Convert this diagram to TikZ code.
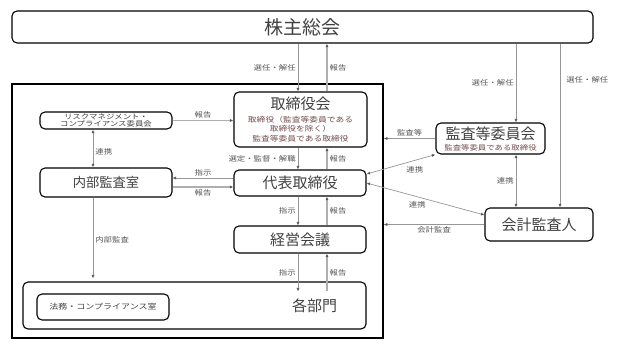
\documentclass[tikz,border=0pt]{standalone}
\usepackage{fontspec}
\setmainfont{Noto Sans CJK JP}
\newfontfamily\widefont[FakeStretch=1.2]{Noto Sans CJK JP}
\usetikzlibrary{arrows.meta, calc}
\definecolor{boxtext}{RGB}{64,64,64}
\definecolor{subtext}{RGB}{115,75,75}
\definecolor{linegray}{RGB}{150,150,150}
\definecolor{repgray}{RGB}{175,175,175}
\definecolor{tipgray}{RGB}{90,90,90}
\definecolor{labelgray}{RGB}{85,85,85}

\begin{document}
\begin{tikzpicture}[x=1pt, y=-1pt,
  box/.style={draw, rounded corners=5pt, line width=1.1pt, inner sep=0pt, text=boxtext},
  big/.style={font=\fontsize{15}{17}\selectfont},
  lbl/.style={font=\widefont\fontsize{7}{8}\selectfont, text=labelgray, inner sep=2pt},
  arr/.style={draw=linegray, line width=0.6pt, -{Latex[length=3.5pt,width=3pt,color=tipgray]}},
  rep/.style={arr, line width=1.3pt, draw=repgray},
  both/.style={draw=linegray, line width=0.7pt, {Latex[length=3.5pt,width=3pt,color=tipgray]}-{Latex[length=3.5pt,width=3pt,color=tipgray]}},
]
\useasboundingbox (0,0) rectangle (620,350);

% columns for the vertical connectors
\coordinate (colA) at (298,0);
\coordinate (colB) at (327,0);
\coordinate (colC) at (93,0);
\coordinate (colD) at (516,0);
\coordinate (colE) at (560,0);

% boxes
\node[box, minimum width=581, minimum height=32, font=\fontsize{19}{21}\selectfont] (soukai) at (302.5,27) {株主総会};
\node[draw, line width=1.6pt, inner sep=0pt, minimum width=371, minimum height=254] (frame) at (197.5,211) {};

\node[box, minimum width=133, minimum height=55, align=center, font=\widefont\fontsize{7.3}{9.5}\selectfont] (torikai) at (300.5,119.5)
  {{\normalfont\fontsize{15}{17}\selectfont 取締役会}\\[3pt]
   {\color{subtext}取締役（監査等委員である}\\
   {\color{subtext}取締役を除く）}\\
   {\color{subtext}監査等委員である取締役}};
\node[box, big, minimum width=132, minimum height=26] (daihyo) at (300,183) {代表取締役};
\node[box, big, minimum width=132, minimum height=27] (keiei) at (300,239.5) {経営会議};
\node[box, minimum width=343, minimum height=47] (kakubumon) at (194.5,305.5) {};
\node[big, text=boxtext] (kakubumonlabel) at (314.5,306) {各部門};

\node[box, minimum width=132, minimum height=17, align=center, font=\widefont\fontsize{7}{7.5}\selectfont] (risk) at (106,120.5)
  {リスクマネジメント・\\コンプライアンス委員会};
\node[box, minimum width=132, minimum height=29, font=\fontsize{13.3}{15}\selectfont] (naibu) at (106,182.5) {内部監査室};
\node[box, minimum width=132, minimum height=26, font=\widefont\fontsize{7.5}{9}\selectfont] (houmu) at (103,307) {法務・コンプライアンス室};

\node[box, minimum width=109, minimum height=31, align=center, font=\widefont\fontsize{7}{8}\selectfont] (kansaiinkai) at (490.5,138.5)
  {{\normalfont\fontsize{15}{17}\selectfont 監査等委員会}\\[3pt]
   {\color{subtext}監査等委員である取締役}};
\node[box, big, minimum width=108, minimum height=33] (kaikei) at (539,224.5) {会計監査人};

% centre column
\draw[arr] (soukai.south -| colA) -- node[lbl, left] {選任・解任} (torikai.north -| colA);
\draw[rep] (torikai.north -| colB) -- node[lbl, right] {報告} (soukai.south -| colB);
\draw[arr] (torikai.south -| colA) -- node[lbl, left] {選定・監督・解職} (daihyo.north -| colA);
\draw[rep] (daihyo.north -| colB) -- node[lbl, right] {報告} (torikai.south -| colB);
\draw[arr] (daihyo.south -| colA) -- node[lbl, left] {指示} (keiei.north -| colA);
\draw[rep] (keiei.north -| colB) -- node[lbl, right] {報告} (daihyo.south -| colB);
\draw[arr] (keiei.south -| colA) -- node[lbl, left] {指示} ([yshift=-10pt]kakubumon.north -| colA);
\draw[rep] ([yshift=-10pt]kakubumon.north -| colB) -- node[lbl, right] {報告} (keiei.south -| colB);

% left side
\draw[rep] (risk.east) -- node[lbl, above] {報告} (risk.east -| torikai.west);
\draw[both] (risk.south -| colC) -- node[lbl, right, pos=0.6] {連携} (naibu.north -| colC);
\draw[arr] ([yshift=5pt]daihyo.west) -- node[lbl, above] {指示} ([yshift=5pt]daihyo.west -| naibu.east);
\draw[rep] ([yshift=-4pt]daihyo.west -| naibu.east) -- node[lbl, below] {報告} ([yshift=-4pt]daihyo.west);
\draw[arr, shorten >=3pt] (naibu.south -| colC) -- node[lbl, right] {内部監査} (kakubumon.north -| colC);

% right side
\draw[arr] (soukai.south -| colD) -- node[lbl, left] {選任・解任} (kansaiinkai.north -| colD);
\draw[arr] (soukai.south -| colE) -- node[lbl, right, pos=0.22, xshift=4pt] {選任・解任} (kaikei.north -| colE);
\draw[arr] (kansaiinkai.west) -- node[lbl, above] {監査等} (kansaiinkai.west -| frame.east);
\draw[both] (kansaiinkai.south west) -- node[lbl, below, pos=0.3, yshift=-4pt] {連携} ([yshift=9pt]daihyo.east);
\draw[both] (daihyo.east) -- node[lbl, below, pos=0.43, yshift=-3pt] {連携} ([yshift=9.5pt]kaikei.west);
\draw[both] (kansaiinkai.south -| colD) -- node[lbl, left] {連携} (kaikei.north -| colD);
\draw[arr] (kaikei.west) -- node[lbl, below] {会計監査} (kaikei.west -| frame.east);
\end{tikzpicture}
\end{document}
